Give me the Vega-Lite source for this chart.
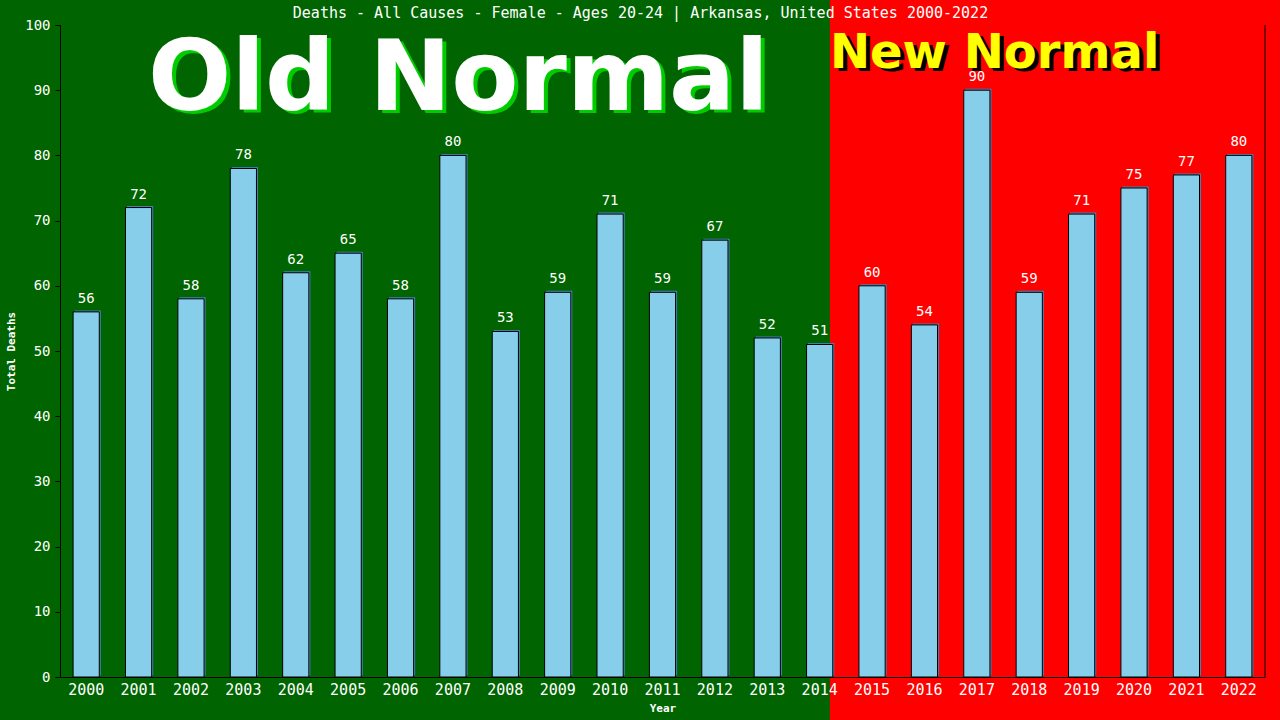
{
  "$schema": "https://vega.github.io/schema/vega-lite/v6.json",
  "width": 1205,
  "height": 652,
  "autosize": "none",
  "padding": {"left": 60, "top": 25, "right": 15, "bottom": 43},
  "background": "#006400",
  "title": {
    "text": "Deaths - All Causes - Female - Ages 20-24 | Arkansas, United States 2000-2022",
    "font": "DejaVu Sans Mono",
    "fontSize": 15,
    "fontWeight": "normal",
    "color": "white",
    "anchor": "middle",
    "baseline": "alphabetic",
    "dx": -22,
    "offset": -33
  },
  "data": {
    "values": [
      {"year": "2000", "deaths": 56},
      {"year": "2001", "deaths": 72},
      {"year": "2002", "deaths": 58},
      {"year": "2003", "deaths": 78},
      {"year": "2004", "deaths": 62},
      {"year": "2005", "deaths": 65},
      {"year": "2006", "deaths": 58},
      {"year": "2007", "deaths": 80},
      {"year": "2008", "deaths": 53},
      {"year": "2009", "deaths": 59},
      {"year": "2010", "deaths": 71},
      {"year": "2011", "deaths": 59},
      {"year": "2012", "deaths": 67},
      {"year": "2013", "deaths": 52},
      {"year": "2014", "deaths": 51},
      {"year": "2015", "deaths": 60},
      {"year": "2016", "deaths": 54},
      {"year": "2017", "deaths": 90},
      {"year": "2018", "deaths": 59},
      {"year": "2019", "deaths": 71},
      {"year": "2020", "deaths": 75},
      {"year": "2021", "deaths": 77},
      {"year": "2022", "deaths": 80}
    ]
  },
  "layer": [
    {
      "data": {"values": [{"region": "new"}]},
      "mark": {"type": "rect", "fill": "#FF0000", "clip": false},
      "encoding": {
        "x": {"datum": "2014", "type": "ordinal", "bandPosition": 0.89},
        "x2": {"datum": "2022", "bandPosition": 2.07},
        "y": {"datum": 103.83, "type": "quantitative"},
        "y2": {"datum": -7}
      }
    },
    {
      "data": {"values": [{"label": "Old Normal"}]},
      "mark": {"type": "text", "font": "DejaVu Sans", "fontWeight": "bold", "fontSize": 98, "align": "center", "baseline": "alphabetic", "color": "#00CC00", "dx": 4, "dy": 3, "clip": false},
      "encoding": {
        "text": {"field": "label"},
        "x": {"datum": "2007", "type": "ordinal", "bandPosition": 0.71},
        "y": {"datum": 87, "type": "quantitative"}
      }
    },
    {
      "data": {"values": [{"label": "Old Normal"}]},
      "mark": {"type": "text", "font": "DejaVu Sans", "fontWeight": "bold", "fontSize": 98, "align": "center", "baseline": "alphabetic", "color": "white", "clip": false},
      "encoding": {
        "text": {"field": "label"},
        "x": {"datum": "2007", "type": "ordinal", "bandPosition": 0.71},
        "y": {"datum": 87, "type": "quantitative"}
      }
    },
    {
      "data": {"values": [{"label": "New Normal"}]},
      "mark": {"type": "text", "font": "DejaVu Sans", "fontWeight": "bold", "fontSize": 48, "align": "left", "baseline": "alphabetic", "color": "black", "dx": 4, "dy": 3, "clip": false},
      "encoding": {
        "text": {"field": "label"},
        "x": {"datum": "2014", "type": "ordinal", "bandPosition": 0.89},
        "y": {"datum": 93.4, "type": "quantitative"}
      }
    },
    {
      "data": {"values": [{"label": "New Normal"}]},
      "mark": {"type": "text", "font": "DejaVu Sans", "fontWeight": "bold", "fontSize": 48, "align": "left", "baseline": "alphabetic", "color": "#FFFF00", "clip": false},
      "encoding": {
        "text": {"field": "label"},
        "x": {"datum": "2014", "type": "ordinal", "bandPosition": 0.89},
        "y": {"datum": 93.4, "type": "quantitative"}
      }
    },
    {
      "mark": {"type": "bar", "fill": "#4682B4", "xOffset": 1.5, "yOffset": -1.5},
      "encoding": {
        "x": {"field": "year", "type": "ordinal"},
        "y": {"field": "deaths", "type": "quantitative"}
      }
    },
    {
      "mark": {"type": "bar", "fill": "#87CEEB", "stroke": "black", "strokeWidth": 1},
      "encoding": {
        "x": {
          "field": "year",
          "type": "ordinal",
          "title": "Year",
          "scale": {"paddingInner": 0.5, "paddingOuter": 0.25},
          "axis": {
            "bandPosition": 0.5,
            "labelAngle": 0,
            "labelAlign": "center",
            "labelColor": "white",
            "labelFont": "DejaVu Sans Mono",
            "labelFontSize": 15,
            "labelPadding": 12,
            "ticks": false,
            "tickSize": 0,
            "domainColor": "black",
            "domainWidth": 1,
            "titleColor": "white",
            "titleFont": "DejaVu Sans Mono",
            "titleFontSize": 11,
            "titleFontWeight": "bold",
            "titlePadding": 5
          }
        },
        "y": {
          "field": "deaths",
          "type": "quantitative",
          "title": "Total Deaths",
          "scale": {"domain": [0, 100], "nice": false},
          "axis": {
            "values": [0, 10, 20, 30, 40, 50, 60, 70, 80, 90, 100],
            "grid": false,
            "labelColor": "white",
            "labelFont": "DejaVu Sans Mono",
            "labelFontSize": 14,
            "labelPadding": 5,
            "tickColor": "black",
            "tickSize": 5,
            "domainColor": "black",
            "titleColor": "white",
            "titleFont": "DejaVu Sans Mono",
            "titleFontSize": 11,
            "titleFontWeight": "bold",
            "titlePadding": 8
          }
        }
      }
    },
    {
      "mark": {"type": "text", "color": "white", "font": "DejaVu Sans Mono", "fontSize": 14, "baseline": "alphabetic", "dy": -9},
      "encoding": {
        "x": {"field": "year", "type": "ordinal"},
        "y": {"field": "deaths", "type": "quantitative"},
        "text": {"field": "deaths", "type": "quantitative"}
      }
    },
    {
      "data": {"values": [{"edge": "right"}]},
      "mark": {"type": "rule", "color": "black", "strokeWidth": 1},
      "encoding": {
        "x": {"datum": "2022", "type": "ordinal", "bandPosition": 1.5},
        "y": {"datum": 0, "type": "quantitative"},
        "y2": {"datum": 100}
      }
    }
  ],
  "config": {
    "view": {"stroke": null}
  }
}
